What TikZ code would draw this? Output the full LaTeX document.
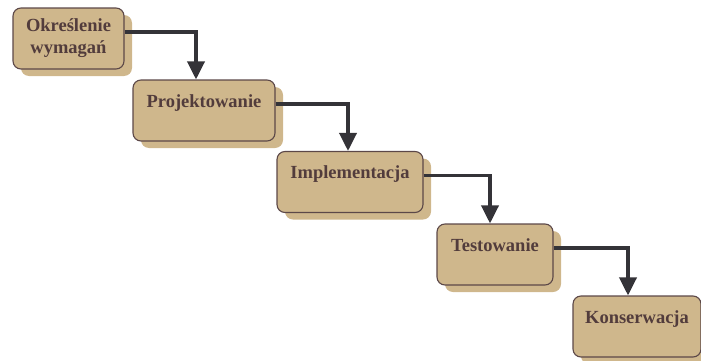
\documentclass[tikz,border=0pt]{standalone}
\usepackage{fontspec}
\setmainfont{Liberation Serif}
\usepackage{tikz}
\usetikzlibrary{arrows.meta, shadows, positioning}
\definecolor{stagefill}{RGB}{207,183,140}
\definecolor{stageline}{RGB}{92,72,72}
\definecolor{stagetext}{RGB}{82,60,60}
\definecolor{flowline}{RGB}{52,51,56}

\begin{document}
\begin{tikzpicture}[
			x=1pt, y=1pt,
			stage/.style={
					draw=stageline,
					line width=1.1pt,
					fill=stagefill,
					rounded corners=8pt,
					minimum height=61pt,
					inner sep=0pt,
					text=stagetext,
					font=\fontsize{18.5}{22}\selectfont\bfseries,
					drop shadow={shadow xshift=8pt, shadow yshift=-7pt, fill=stagefill, opacity=1}
				},
			toptext/.style={
					text height=27pt, % baseline near the top edge
					text depth=34pt
				},
			flow/.style={
					draw=flowline,
					line width=3.6pt,
					-{Triangle[length=18pt, width=17pt]}
				}
		]
		\useasboundingbox (0,0) rectangle (701,360);

		\node[stage, minimum width=111pt, align=center] (req) at (68.5, 321.5) {Określenie\\wymagań};
		\node[stage, toptext, minimum width=142pt] (design) at (204, 249.5) {Projektowanie};
		\node[stage, toptext, minimum width=146pt] (impl) at (350, 178) {Implementacja};
		\node[stage, toptext, minimum width=116pt] (test) at (495, 105.5) {Testowanie};
		\node[stage, toptext, minimum width=128pt] (maint) at (637, 33.5) {Konserwacja};

		% steps of the cascade
		\draw[flow] ([yshift=6.5pt]req.east) -| ([xshift=-8pt]design.north);
		\draw[flow] ([yshift=6.5pt]design.east) -| ([xshift=-2pt]impl.north);
		\draw[flow] ([yshift=6.5pt]impl.east) -| ([xshift=-5pt]test.north);
		\draw[flow] ([yshift=6.5pt]test.east) -| ([xshift=-9pt]maint.north);
	\end{tikzpicture}
\end{document}
